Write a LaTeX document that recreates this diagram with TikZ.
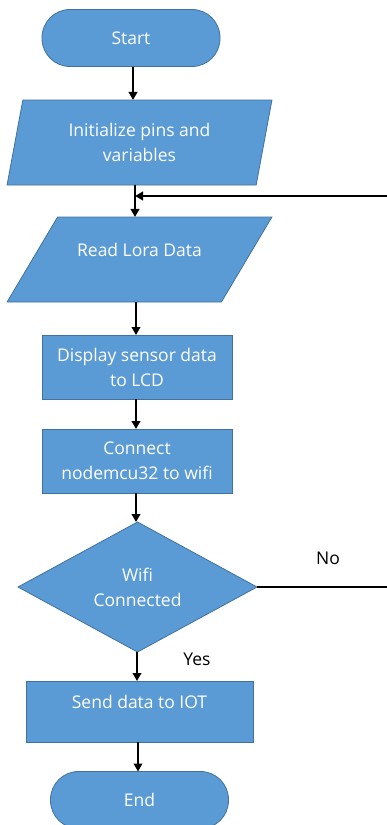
\documentclass[tikz,border=0pt]{standalone}
\usepackage{fontspec}
\setmainfont{Open Sans}
\usetikzlibrary{arrows.meta,shapes.geometric}
\definecolor{boxfill}{HTML}{5B9BD5}
\definecolor{boxline}{HTML}{41719C}
\begin{document}
\begin{tikzpicture}[x=1pt,y=-1pt,
  every node/.style={font=\fontsize{17.5}{25}\selectfont, inner sep=0pt, outer sep=0pt},
  shp/.style={fill=boxfill, draw=boxline, line width=0.8pt, text=white, align=center},
  term/.style={shp, rectangle, rounded corners=28pt, minimum width=178pt, minimum height=57pt},
  proc/.style={shp, rectangle, minimum width=190pt, minimum height=64pt},
  io/.style={shp, trapezium, trapezium left angle=76, trapezium right angle=104,
             trapezium stretches=true, minimum width=265pt, minimum height=85pt},
  dec/.style={shp, diamond, minimum width=239pt, minimum height=130pt},
  txt/.style={text=white, align=center},
  lbl/.style={text=black},
  arr/.style={line width=2.4pt, -{Triangle[length=8pt,width=8.5pt]}}]
\useasboundingbox (0,0) rectangle (387,825);
\clip (0,0) rectangle (387,825);
\node[term] (start) at (131,38) {Start};
\node[io] (init) at (139.5,142.5) {Initialize pins and\\variables};
\node[io] (lora) at (139.5,259.5) {\phantom{X}};
\node[txt] (loratxt) at (139.5,250) {Read Lora Data};
\node[proc] (disp) at (137,367) {Display sensor data\\to LCD};
\node[proc] (conn) at (137,461) {Connect\\nodemcu32 to wifi};
\node[dec] (dec) at (137.5,587) {Wifi\\Connected};
\node[shp, rectangle, minimum width=227pt, minimum height=61pt] (send) at (139.5,711.5) {};
\node[txt] (sendtxt) at (139.5,702) {Send data to IOT};
\node[term] (end) at (139.5,800) {End};
\node[lbl] (no) at (328,558) {No};
\node[lbl] (yes) at (197,659) {Yes};
\coordinate (join) at (135,196);
\coordinate (far) at (400,196);
\draw[arr] (start.south -| 133,0) -- (init.north -| 133,0);
\draw[arr] (init.south -| 135,0) -- (lora.north -| 135,0);
\draw[arr] (lora.south -| 136,0) -- (disp.north -| 136,0);
\draw[arr] (disp.south -| 136,0) -- (conn.north -| 136,0);
\draw[arr] (conn.south -| 136,0) -- (dec.north -| 136,0);
\draw[arr] (dec.south -| 137,0) -- (send.north -| 137,0);
\draw[arr] (send.south -| 138,0) -- (end.north -| 138,0);
\draw[arr] (dec.east) -- (dec.east -| far) -- (far) -- (join);
\end{tikzpicture}
\end{document}
